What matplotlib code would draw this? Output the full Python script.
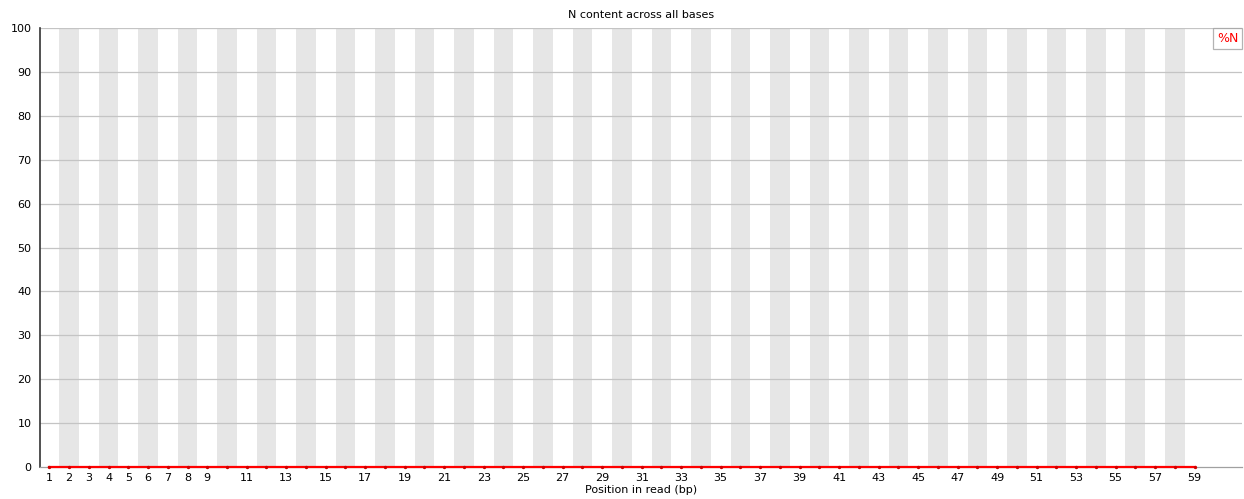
import matplotlib.pyplot as plt

# ---------- Data ----------
positions = list(range(1, 60))
n_content = [0.0] * len(positions)
tick_positions = list(range(1, 10)) + list(range(11, 60, 2))
tick_labels = [str(p) for p in tick_positions]
y_ticks = list(range(0, 101, 10))

plt.rcParams["font.family"] = ["DejaVu Sans"]

fig = plt.figure(figsize=(12.44, 4.99), dpi=100)
ax = fig.add_axes([40 / 1244, 32 / 499, 1202 / 1244, 439 / 499])

# ---------- Alternating stripes ----------
for p in positions:
    if p % 2 == 0:
        ax.axvspan(p - 0.5, p + 0.5, color="#e6e6e6", lw=0, zorder=0)

# ---------- Grid ----------
for y in y_ticks[1:]:
    ax.axhline(y, color="#c4c4c4", lw=0.9, zorder=1)

# ---------- Line ----------
ax.plot(positions, n_content, color="#ff0000", lw=1.6, zorder=3, clip_on=False)
ax.plot(positions, n_content, ls="none", marker="o", color="#d00000",
        markersize=1.4, zorder=4, clip_on=False)

ax.set_xlim(0.53, 61.4)
ax.set_ylim(0, 100)

ax.set_yticks(y_ticks)
ax.set_yticklabels([str(v) for v in y_ticks], fontsize=8)
ax.set_xticks(tick_positions)
ax.set_xticklabels(tick_labels, fontsize=8)
ax.tick_params(axis="both", length=0)
ax.tick_params(axis="y", pad=6)
ax.tick_params(axis="x", pad=4)

for side in ["top", "right"]:
    ax.spines[side].set_visible(False)
ax.spines["left"].set_color("#333333")
ax.spines["left"].set_linewidth(1.2)
ax.spines["bottom"].set_color("#a0a0a0")
ax.spines["bottom"].set_linewidth(0.9)

ax.set_title("N content across all bases", fontsize=8, pad=7)
ax.set_xlabel("Position in read (bp)", fontsize=8, labelpad=2)

leg = ax.legend(["%N"], loc="upper right", handlelength=0, handletextpad=0,
                fontsize=9, frameon=True, fancybox=False,
                borderaxespad=0, borderpad=0.3, labelcolor="#ff0000")
leg.get_frame().set_edgecolor("#a0a0a0")
leg.get_frame().set_linewidth(0.9)
for h in leg.legend_handles:
    h.set_visible(False)

fig.savefig("out.png", dpi=100)
